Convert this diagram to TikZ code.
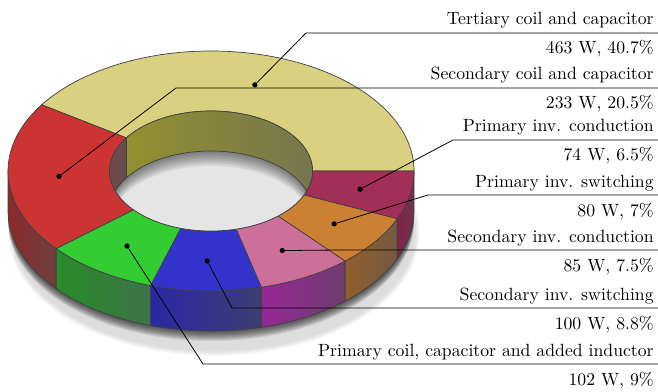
\documentclass[tikz,border=0pt]{standalone}
\definecolor{cY}{RGB}{217,208,128}
\definecolor{cR}{RGB}{204,51,51}
\definecolor{cG}{RGB}{51,204,51}
\definecolor{cB}{RGB}{51,51,204}
\definecolor{cP}{RGB}{204,112,153}
\definecolor{cO}{RGB}{204,128,51}
\definecolor{cM}{RGB}{163,46,87}
\definecolor{sRl}{RGB}{140,42,42}\definecolor{sRr}{RGB}{110,62,62}
\definecolor{sGl}{RGB}{40,140,40}\definecolor{sGr}{RGB}{62,115,75}
\definecolor{sBl}{RGB}{40,40,165}\definecolor{sBr}{RGB}{62,62,115}
\definecolor{sPl}{RGB}{150,40,150}\definecolor{sPr}{RGB}{112,60,112}
\definecolor{sOl}{RGB}{145,95,45}\definecolor{sOr}{RGB}{115,90,65}
\definecolor{sMl}{RGB}{130,35,70}\definecolor{sMr}{RGB}{110,50,80}
\definecolor{iYl}{RGB}{145,145,48}\definecolor{iYr}{RGB}{118,118,78}
\definecolor{iRl}{RGB}{110,75,75}\definecolor{iRr}{RGB}{100,76,76}
\tikzset{
  edge/.style={draw=black!75,line width=0.4pt},
  leader/.style={draw=black,line width=0.45pt},
  dotn/.style={circle,fill=black,inner sep=0pt,minimum size=3pt},
  lbl/.style={inner sep=0pt,anchor=base east,font=\fontsize{10.12pt}{12pt}\selectfont}
}
\begin{document}
\begin{tikzpicture}[x=0.571429pt,y=0.571429pt]
\useasboundingbox (0,0) rectangle (658,-392);
\begin{scope}[shift={(211,-171)}]
  % light shadow
  \foreach \i in {0,...,5}
    \fill[black,opacity=0.022] (3,-62) ellipse ({201+\i} and {118+\i});
  % dark shadow band
  \foreach \k in {1,...,10}
    \fill[black,opacity=0.085] (0,{-40-\k}) ellipse (203 and 120);
  % outer side walls
  \foreach \a/\b/\l/\r in {180/220.32/sRl/sRr,220.32/252.72/sGl/sGr,252.72/284.4/sBl/sBr,284.4/311.4/sPl/sPr,311.4/336.6/sOl/sOr,336.6/360/sMl/sMr}
    \path[left color=\l,right color=\r,edge] (\a:203 and 120)
      arc[start angle=\a,end angle=\b,x radius=203,y radius=120] -- ++(0,-40)
      arc[start angle=\b,end angle=\a,x radius=203,y radius=120] -- cycle;
  % top faces
  \foreach \a/\b/\c in {0/146.52/cY,146.52/220.32/cR,220.32/252.72/cG,252.72/284.4/cB,284.4/311.4/cP,311.4/336.6/cO,336.6/360/cM}
    \path[fill=\c,edge] (\a:203 and 120)
      arc[start angle=\a,end angle=\b,x radius=203,y radius=120] -- (\b:101.5 and 60)
      arc[start angle=\b,end angle=\a,x radius=101.5,y radius=60] -- cycle;
  % hole
  \begin{scope}
    \clip (0,0) ellipse (101.5 and 60);
    \fill[gray!20] (0,0) ellipse (101.5 and 60);
    \foreach \k in {1,...,10}
      \fill[black,opacity=0.055,even odd rule] (-110,-70) rectangle (110,70) (0,{-40-1.5*\k}) ellipse (101.5 and 60);
    \path[left color=iYl,right color=iYr] (0:101.5 and 60)
      arc[start angle=0,end angle=146.52,x radius=101.5,y radius=60] -- ++(0,-40)
      arc[start angle=146.52,end angle=0,x radius=101.5,y radius=60] -- cycle;
    \path[left color=iRl,right color=iRr] (146.52:101.5 and 60)
      arc[start angle=146.52,end angle=180,x radius=101.5,y radius=60] -- ++(0,-40)
      arc[start angle=180,end angle=146.52,x radius=101.5,y radius=60] -- cycle;
    \draw[edge] (0,-40) ++(0:101.5 and 60) arc[start angle=0,end angle=180,x radius=101.5,y radius=60];
    \draw[edge] (146.52:101.5 and 60) -- ++(0,-40);
  \end{scope}
  \draw[edge] (0,0) ellipse (101.5 and 60);
  % dots
  \node[dotn] (d1) at (73.26:152.25 and 90) {};
  \node[dotn] (d2) at (183.42:152.25 and 90) {};
  \node[dotn] (d3) at (348.3:152.25 and 90) {};
  \node[dotn] (d4) at (324:152.25 and 90) {};
  \node[dotn] (d5) at (297.9:152.25 and 90) {};
  \node[dotn] (d6) at (268.56:152.25 and 90) {};
  \node[dotn] (d7) at (236.52:152.25 and 90) {};
\end{scope}
% corners and ends
\coordinate (c1) at (306,-33);  \coordinate (e1) at (658,-33);
\coordinate (c2) at (176,-88);  \coordinate (e2) at (658,-88);
\coordinate (c3) at (453,-140); \coordinate (e3) at (658,-140);
\coordinate (c4) at (428,-195); \coordinate (e4) at (658,-195);
\coordinate (c5) at (340,-250); \coordinate (e5) at (658,-250);
\coordinate (c6) at (232,-308); \coordinate (e6) at (658,-308);
\coordinate (c7) at (203,-364); \coordinate (e7) at (658,-364);
\foreach \i in {1,...,7} \draw[leader] (d\i) -- (c\i) -- (e\i);
% labels
\node[lbl] (n1) at (654,-25)  {Tertiary coil and capacitor};
\node[lbl] (v1) at (654,-54)  {463 W, 40.7\%};
\node[lbl] (n2) at (654,-80)  {Secondary coil and capacitor};
\node[lbl] (v2) at (654,-109) {233 W, 20.5\%};
\node[lbl] (n3) at (654,-132) {Primary inv. conduction};
\node[lbl] (v3) at (654,-161) {74 W, 6.5\%};
\node[lbl] (n4) at (654,-187) {Primary inv. switching};
\node[lbl] (v4) at (654,-216) {80 W, 7\%};
\node[lbl] (n5) at (654,-242) {Secondary inv. conduction};
\node[lbl] (v5) at (654,-271) {85 W, 7.5\%};
\node[lbl] (n6) at (654,-300) {Secondary inv. switching};
\node[lbl] (v6) at (654,-329) {100 W, 8.8\%};
\node[lbl] (n7) at (654,-356) {Primary coil, capacitor and added inductor};
\node[lbl] (v7) at (654,-385) {102 W, 9\%};
\end{tikzpicture}
\end{document}
